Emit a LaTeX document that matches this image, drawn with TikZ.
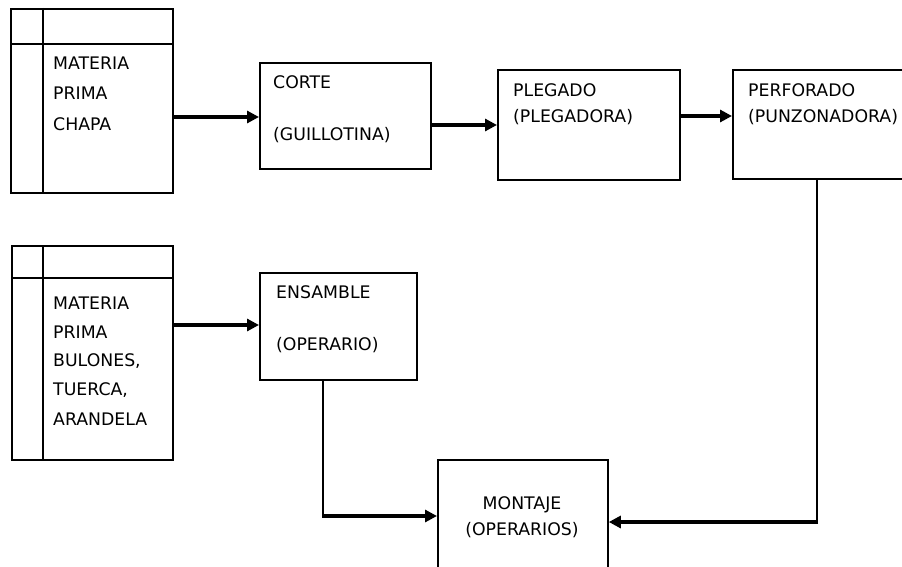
\documentclass[tikz,border=0pt]{standalone}
\usepackage{fontspec}
\setmainfont{DejaVu Sans}
\usetikzlibrary{arrows.meta,positioning}
\tikzset{
  boxst/.style={draw=black,line width=1.8pt,rectangle,inner sep=0pt,anchor=north west},
  lbl/.style={anchor=west,inner sep=0pt,font=\fontsize{17.3}{20}\selectfont},
  lblc/.style={anchor=center,inner sep=0pt,font=\fontsize{17.3}{20}\selectfont},
  arr/.style={line width=3.4pt,-{Triangle[length=12pt,width=12pt]}},
  vline/.style={line width=2pt}
}
\begin{document}
\begin{tikzpicture}[x=1pt,y=-1pt]
\useasboundingbox[fill=white] (0,0) rectangle (902,567);
% source boxes
\node[boxst,minimum width=162pt,minimum height=184pt] (src1) at (10,8) {};
\draw[line width=1.8pt] ([xshift=33pt]src1.north west) -- ([xshift=33pt]src1.south west);
\draw[line width=1.8pt] ([yshift=-36pt]src1.north west) -- ([yshift=-36pt]src1.north east);
\node[lbl] (t1a) at (53,63) {MATERIA};
\node[lbl] (t1b) at (53,93) {PRIMA};
\node[lbl] (t1c) at (53,124) {CHAPA};

\node[boxst,minimum width=161pt,minimum height=214pt] (src2) at (11,245) {};
\draw[line width=1.8pt] ([xshift=32pt]src2.north west) -- ([xshift=32pt]src2.south west);
\draw[line width=1.8pt] ([yshift=-33pt]src2.north west) -- ([yshift=-33pt]src2.north east);
\node[lbl] (t2a) at (53,303) {MATERIA};
\node[lbl] (t2b) at (53,332) {PRIMA};
\node[lbl] (t2c) at (53,361) {BULONES,};
\node[lbl] (t2d) at (53,390) {TUERCA,};
\node[lbl] (t2e) at (53,419) {ARANDELA};

% process boxes
\node[boxst,minimum width=171pt,minimum height=106pt] (corte) at (259,62) {};
\node[lbl] (tc1) at (273,82) {CORTE};
\node[lbl] (tc2) at (273,135) {(GUILLOTINA)};

\node[boxst,minimum width=182pt,minimum height=110pt] (pleg) at (497,69) {};
\node[lbl] (tp1) at (513,90) {PLEGADO};
\node[lbl] (tp2) at (513,117) {(PLEGADORA)};

\node[boxst,minimum width=190pt,minimum height=109pt] (perf) at (732,69) {};
\node[lbl] (tf1) at (748,90) {PERFORADO};
\node[lbl] (tf2) at (748,117) {(PUNZONADORA)};

\node[boxst,minimum width=157pt,minimum height=107pt] (ens) at (259,272) {};
\node[lbl] (te1) at (276,292) {ENSAMBLE};
\node[lbl] (te2) at (276,345) {(OPERARIO)};

\node[boxst,minimum width=170pt,minimum height=130pt] (mont) at (437,459) {};
\node[lblc] (tm1) at (522,505) {MONTAJE};
\node[lblc] (tm2) at (522,530) {(OPERARIOS)};

% connectors
\draw[arr] (src1.east |- 0,117) -- (corte.west |- 0,117);
\draw[arr] (corte.east |- 0,125) -- (pleg.west |- 0,125);
\draw[arr] (pleg.east |- 0,116) -- (perf.west |- 0,116);
\draw[arr] (src2.east |- 0,325) -- (ens.west |- 0,325);

\coordinate (c1) at (323,516);
\draw[vline] (ens.south -| c1) -- (c1);
\draw[arr] ([xshift=-1pt]c1) -- (mont.west |- c1);

\coordinate (c2) at (817,522);
\draw[vline] (perf.south -| c2) -- (c2);
\draw[arr] ([xshift=1pt]c2) -- (mont.east |- c2);
\end{tikzpicture}
\end{document}
